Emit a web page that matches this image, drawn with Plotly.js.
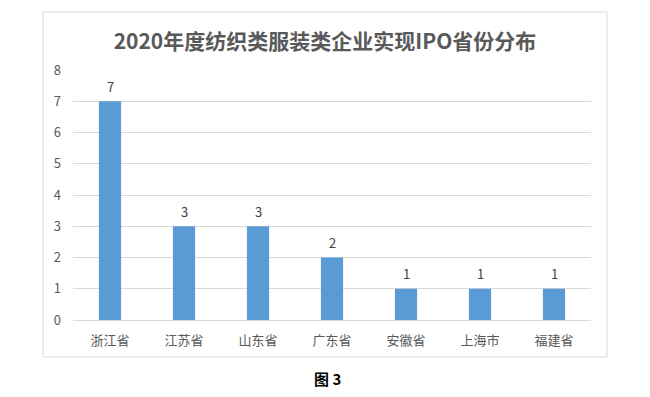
<!DOCTYPE html>
<html>
<head>
<meta charset="utf-8">
<script src="https://cdn.plot.ly/plotly-3.0.1.min.js"></script>
<style>html,body{margin:0;padding:0;background:#fff;}#chart{width:650px;height:397px;}</style>
</head>
<body>
<div id="chart"></div>
<script>
const provinces = ["浙江省", "江苏省", "山东省", "广东省", "安徽省", "上海市", "福建省"];
const ipoCounts = [7, 3, 3, 2, 1, 1, 1];
const yTicks = [0, 1, 2, 3, 4, 5, 6, 7, 8];
const chartTitle = "2020年度纺织类服装类企业实现IPO省份分布";
const caption = "图 3";

const font = '"Noto Sans CJK SC", "Open Sans", sans-serif';

const trace = {
  type: 'bar',
  x: provinces,
  y: ipoCounts,
  marker: {color: '#5B9BD5'},
  hoverinfo: 'x+y'
};

const valueLabels = provinces.map((p, i) => ({
  x: p, y: ipoCounts[i], xref: 'x', yref: 'y',
  text: String(ipoCounts[i]),
  showarrow: false,
  yanchor: 'middle', xanchor: 'center',
  yshift: 15,
  font: {family: font, size: 13, color: '#404040'}
}));

const layout = {
  width: 650,
  height: 397,
  margin: {l: 73, r: 59, t: 70, b: 77},
  paper_bgcolor: '#ffffff',
  plot_bgcolor: '#ffffff',
  bargap: 0.7,
  showlegend: false,
  title: {
    text: '<b>' + chartTitle + '</b>',
    x: 0.5, xanchor: 'center',
    y: 1 - 42/397, yanchor: 'middle', yref: 'container',
    font: {family: font, size: 21, color: '#595959'}
  },
  xaxis: {
    showgrid: false,
    showline: true,
    linecolor: '#D9D9D9',
    linewidth: 1,
    ticks: '',
    ticklabelstandoff: 8,
    tickfont: {family: font, size: 13, color: '#595959'},
    fixedrange: true
  },
  yaxis: {
    range: [0, 8],
    tickvals: yTicks,
    showgrid: true,
    gridcolor: '#D9D9D9',
    zeroline: false,
    showline: false,
    ticks: '',
    ticklabelstandoff: 11,
    tickfont: {family: font, size: 13, color: '#595959'},
    fixedrange: true
  },
  shapes: [{
    type: 'rect', xref: 'paper', yref: 'paper',
    x0: (43-73)/518, x1: (607-73)/518,
    y0: (320-357)/250, y1: (320-12)/250,
    line: {color: '#D9D9D9', width: 1},
    fillcolor: 'rgba(0,0,0,0)',
    layer: 'below'
  }],
  annotations: valueLabels.concat([{
    text: '<b>' + caption + '</b>',
    xref: 'paper', yref: 'paper',
    x: (327-73)/518, y: (320-378)/250,
    xanchor: 'center', yanchor: 'middle',
    showarrow: false,
    font: {family: font, size: 15, color: '#000000'}
  }])
};

Plotly.newPlot('chart', [trace], layout, {displayModeBar: false, staticPlot: true});
</script>
</body>
</html>
